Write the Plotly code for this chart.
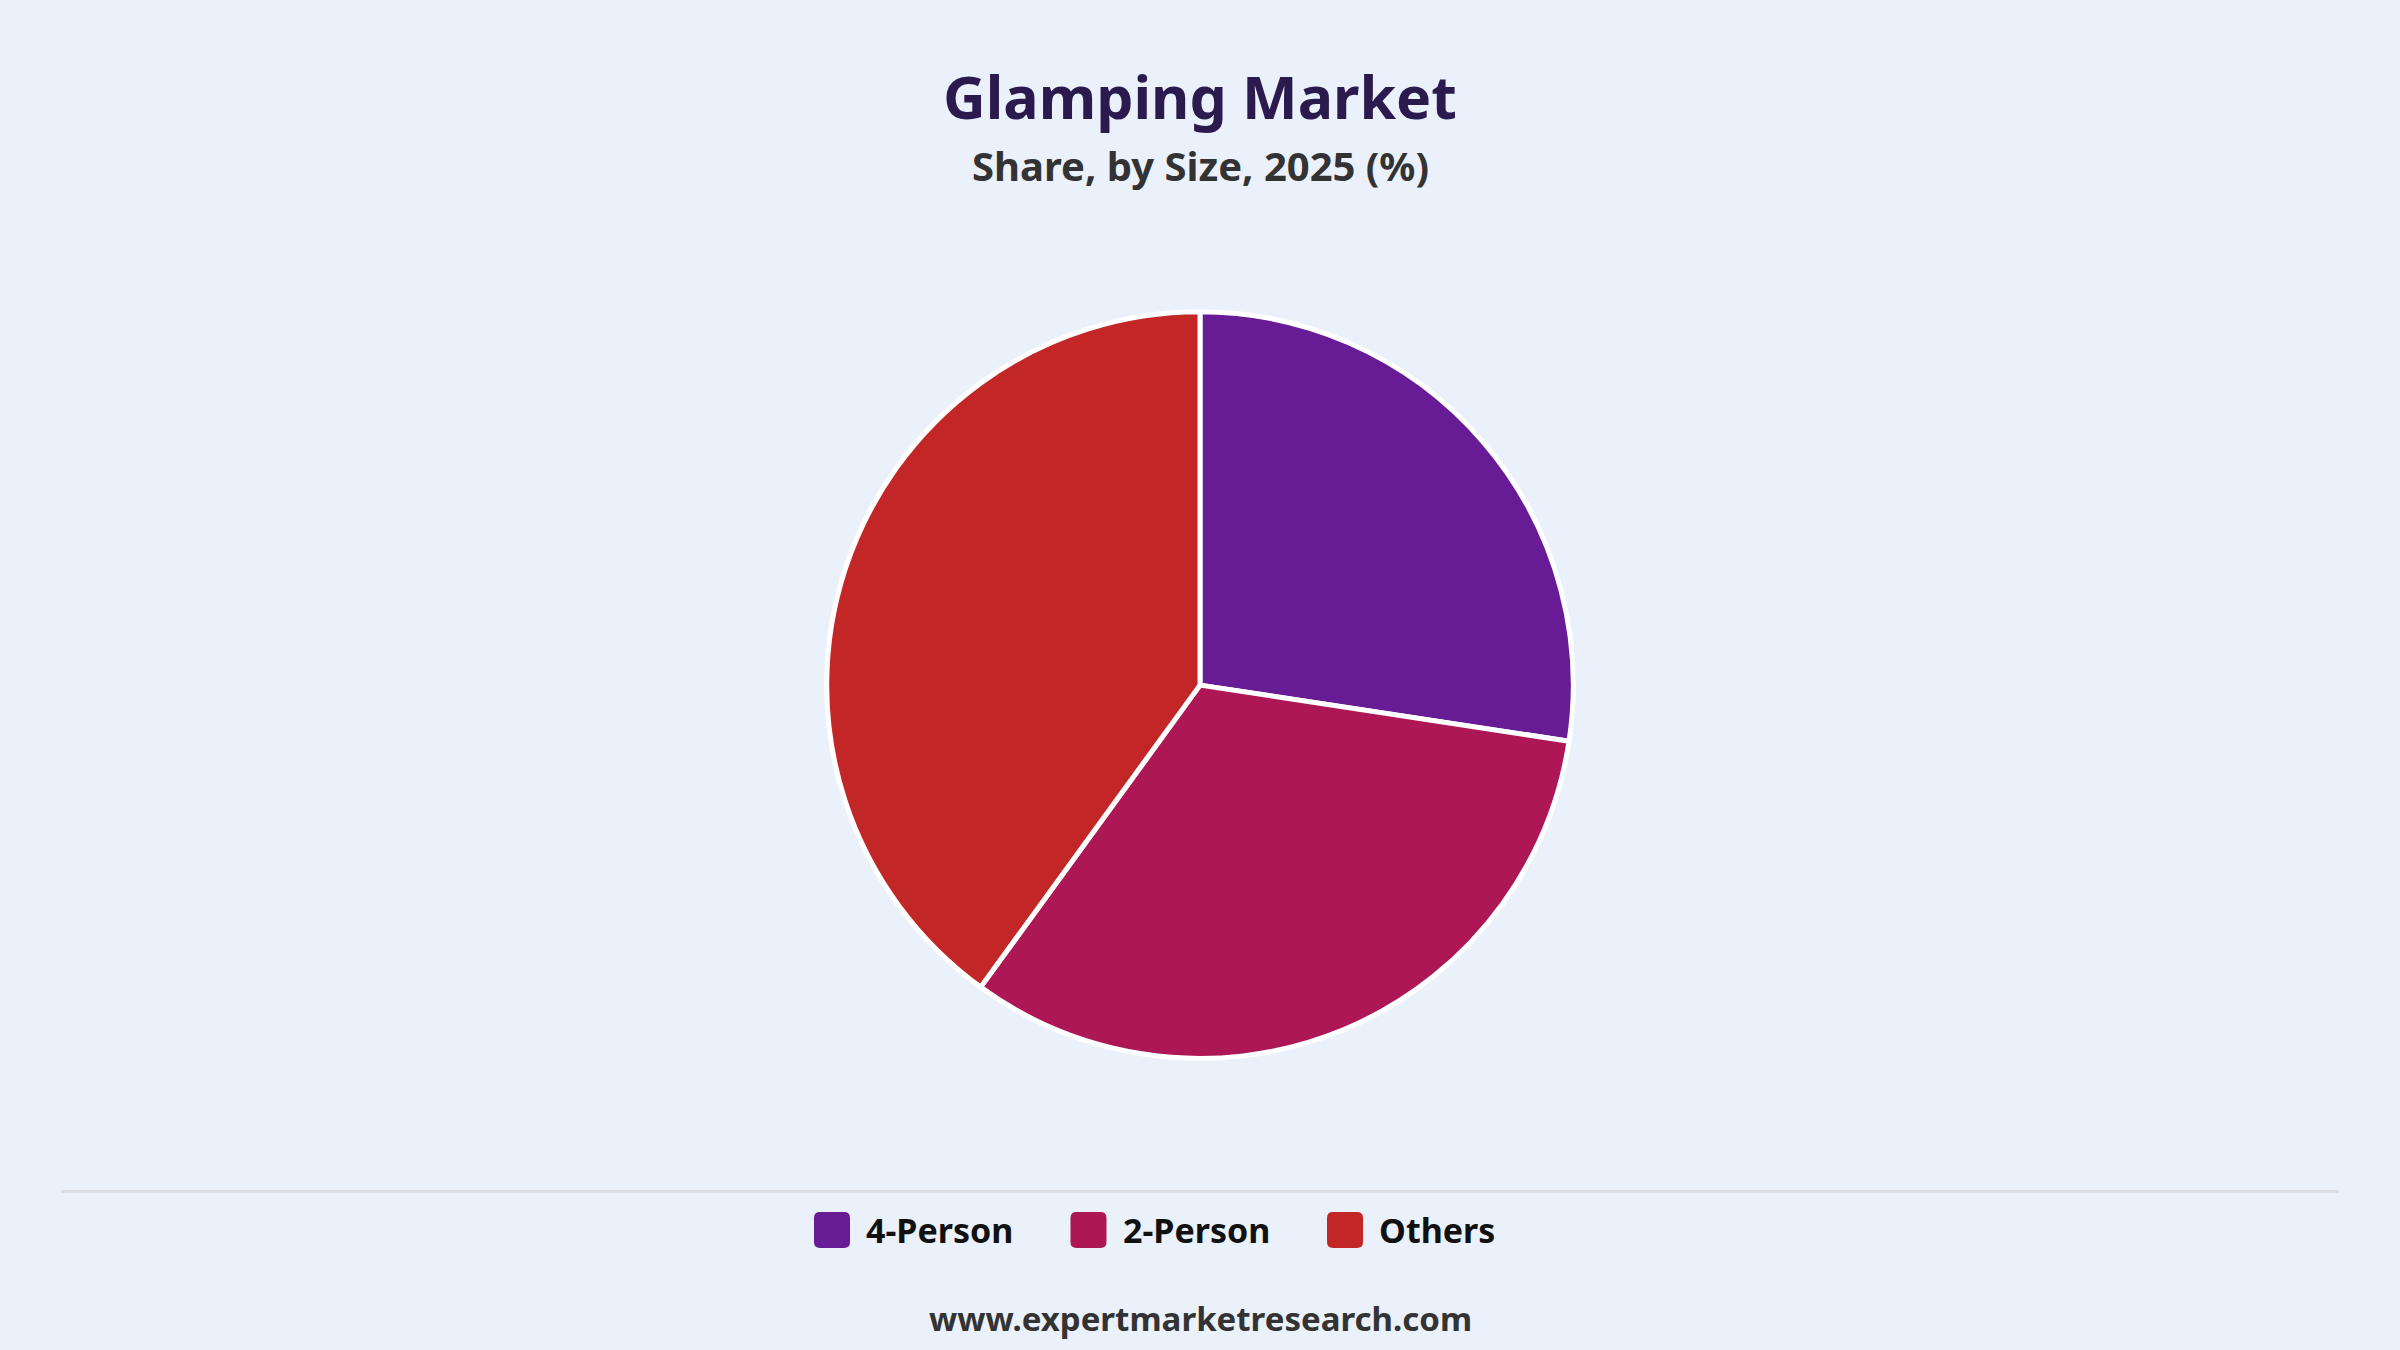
import plotly.graph_objects as go

# share by size, 2025 (%)
sizes = ["4-Person", "2-Person", "Others"]
shares = [27.4, 32.6, 40.0]
colors = ["#671C96", "#AD1755", "#C32626"]

title = "Glamping Market"
subtitle = "Share, by Size, 2025 (%)"
source = "www.expertmarketresearch.com"

W, H = 2400, 1350
bg = "#EAF1FB"
font_family = "Noto Sans"


def rounded_box(x0, y0, size, r):
	# rounded square in pixels (top-left origin) -> svg path in paper coords
	def p(x, y):
		return f"{x / W:.5f},{1 - y / H:.5f}"
	x1, y1 = x0 + size, y0 + size
	return (f"M {p(x0 + r, y0)} L {p(x1 - r, y0)} Q {p(x1, y0)} {p(x1, y0 + r)} "
			f"L {p(x1, y1 - r)} Q {p(x1, y1)} {p(x1 - r, y1)} "
			f"L {p(x0 + r, y1)} Q {p(x0, y1)} {p(x0, y1 - r)} "
			f"L {p(x0, y0 + r)} Q {p(x0, y0)} {p(x0 + r, y0)} Z")


fig = go.Figure(go.Pie(
	labels=sizes,
	values=shares,
	marker=dict(colors=colors, line=dict(color="white", width=5)),
	sort=False,
	direction="clockwise",
	rotation=0,
	textinfo="none",
	showlegend=False,
	hovertemplate="%{label}: %{value}%<extra></extra>",
	domain=dict(x=[0, 1], y=[0.216, 0.769]),
))

annotations = [
	dict(text=title, x=0.5, y=1 - 96 / H, font=dict(size=59, color="#2B1A4E", family=font_family, weight="bold")),
	dict(text=subtitle, x=0.5, y=1 - 166 / H, font=dict(size=40, color="#333333", family=font_family, weight="bold")),
	dict(text=source, x=0.5, y=0.023, font=dict(size=33, color="#333333", family=font_family, weight="bold")),
]
for a in annotations:
	a.update(xref="paper", yref="paper", showarrow=False, xanchor="center", yanchor="middle")

shapes = [
	dict(type="line", xref="paper", yref="paper", x0=0.0255, x1=0.9745, y0=0.1175, y1=0.1175,
		 line=dict(color="#DADDE2", width=3)),
]

# legend drawn by hand so the swatches can be big rounded squares
leg_x0, leg_step, leg_y, box = 814, 256.5, 1212, 36
for i, (name, col) in enumerate(zip(sizes, colors)):
	x = leg_x0 + i * leg_step
	shapes.append(dict(type="path", xref="paper", yref="paper", path=rounded_box(x, leg_y, box, 6),
					   fillcolor=col, line=dict(width=0)))
	annotations.append(dict(text=name, x=(x + box + 14) / W, y=1 - (leg_y + box / 2) / H,
							xref="paper", yref="paper", showarrow=False, xanchor="left", yanchor="middle",
							font=dict(size=34, color="#111111", family=font_family, weight="bold")))

fig.update_layout(
	width=W, height=H,
	paper_bgcolor=bg, plot_bgcolor=bg,
	margin=dict(l=0, r=0, t=0, b=0),
	font=dict(family=font_family, color="#111111"),
	annotations=annotations,
	shapes=shapes,
)

fig.write_html("out.html", config={"displayModeBar": False},
			   post_script="document.body.style.margin='0';document.body.style.background='" + bg + "';")
